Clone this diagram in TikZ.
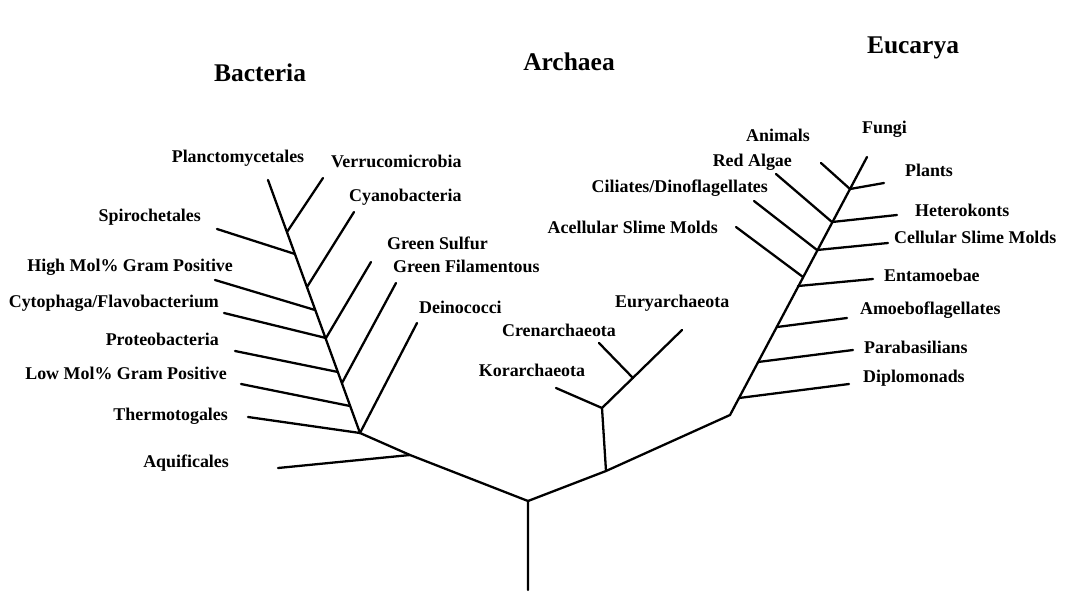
\documentclass[tikz,border=0pt]{standalone}
\usepackage{fontspec}
\setmainfont{Liberation Serif}
\usepackage{tikz}

\begin{document}
\begin{tikzpicture}[x=0.02cm, y=-0.02cm,
    branch/.style={line width=1.3pt, line cap=round, line join=round},
    taxon/.style={inner sep=1pt, font=\bfseries\fontsize{10.2}{12}\selectfont},
    kingdom/.style={inner sep=1pt, font=\bfseries\fontsize{14.5}{17}\selectfont}]
    \useasboundingbox (0,0) rectangle (1065,592);

    \node[kingdom] (bacteria) at (260,73) {Bacteria};
    \node[kingdom] (archaea) at (569,62) {Archaea};
    \node[kingdom] (eucarya) at (913,48) {Eucarya};

    \coordinate (root) at (528,501);
    \coordinate (rootbase) at (528,590);
    \coordinate (jaqu) at (410,455);
    \coordinate (jbac) at (360,433);
    \coordinate (jarc) at (606,471);
    \coordinate (jeuc) at (730,415);

    \coordinate (tplan) at (268,180);
    \coordinate (jver) at (287,232);
    \coordinate (jspi) at (295,254);
    \coordinate (jcya) at (307,287);
    \coordinate (jhig) at (315,310);
    \coordinate (jcyt) at (326,338);
    \coordinate (jpro) at (338,372);
    \coordinate (jgfi) at (342,383);
    \coordinate (jlow) at (350,406);
    \coordinate (tver) at (323,178);
    \coordinate (tspi) at (217,229);
    \coordinate (tcya) at (354,212);
    \coordinate (thig) at (215,280);
    \coordinate (tcyt) at (224,313);
    \coordinate (tgsu) at (371,262);
    \coordinate (tpro) at (235,351);
    \coordinate (tgfi) at (396,283);
    \coordinate (tlow) at (241,384);
    \coordinate (tdei) at (417,323);
    \coordinate (tthe) at (248,417);
    \coordinate (taqu) at (278,468);

    \coordinate (jar2) at (602,408);
    \coordinate (jar3) at (633,378);
    \coordinate (tkor) at (556,388);
    \coordinate (tcre) at (599,343);
    \coordinate (teur) at (682,330);

    \coordinate (jdip) at (739,398);
    \coordinate (jpar) at (758,362);
    \coordinate (jamo) at (777,327);
    \coordinate (jent) at (798,286);
    \coordinate (jace) at (803,277);
    \coordinate (jcel) at (817,250);
    \coordinate (jhet) at (832,222);
    \coordinate (jpla) at (850,189);
    \coordinate (tfun) at (867,157);
    \coordinate (tdip) at (849,384);
    \coordinate (tpar) at (853,350);
    \coordinate (tamo) at (847,318);
    \coordinate (tent) at (873,279);
    \coordinate (tace) at (736,227);
    \coordinate (tcel) at (888,243);
    \coordinate (tcil) at (754,201);
    \coordinate (thet) at (897,215);
    \coordinate (tred) at (776,174);
    \coordinate (tpla) at (884,183);
    \coordinate (tani) at (821,163);

    \draw[branch] (rootbase) -- (root) -- (jaqu) -- (jbac) -- (tplan);
    \draw[branch] (root) -- (jarc) -- (jeuc) -- (tfun);
    \draw[branch] (jaqu) -- (taqu);
    \draw[branch] (jbac) -- (tthe);
    \draw[branch] (jbac) -- (tdei);
    \draw[branch] (jlow) -- (tlow);
    \draw[branch] (jgfi) -- (tgfi);
    \draw[branch] (jpro) -- (tpro);
    \draw[branch] (jcyt) -- (tcyt);
    \draw[branch] (jcyt) -- (tgsu);
    \draw[branch] (jhig) -- (thig);
    \draw[branch] (jcya) -- (tcya);
    \draw[branch] (jspi) -- (tspi);
    \draw[branch] (jver) -- (tver);

    \draw[branch] (jarc) -- (jar2) -- (teur);
    \draw[branch] (jar2) -- (tkor);
    \draw[branch] (jar3) -- (tcre);

    \draw[branch] (jdip) -- (tdip);
    \draw[branch] (jpar) -- (tpar);
    \draw[branch] (jamo) -- (tamo);
    \draw[branch] (jent) -- (tent);
    \draw[branch] (jace) -- (tace);
    \draw[branch] (jcel) -- (tcel);
    \draw[branch] (jcel) -- (tcil);
    \draw[branch] (jhet) -- (thet);
    \draw[branch] (jhet) -- (tred);
    \draw[branch] (jpla) -- (tpla);
    \draw[branch] (jpla) -- (tani);

    \node[taxon] (plan) at (238,158) {Planctomycetales};
    \node[taxon, anchor=west] (ver) at (329,161) {Verrucomicrobia};
    \node[taxon, anchor=east] (spi) at (203,217) {Spirochetales};
    \node[taxon, anchor=west] (cya) at (347,197) {Cyanobacteria};
    \node[taxon, anchor=east] (hig) at (235,267) {High Mol\% Gram Positive};
    \node[taxon, anchor=west] (gsu) at (385,243) {Green Sulfur};
    \node[taxon, anchor=west] (gfi) at (391,266) {Green Filamentous};
    \node[taxon, anchor=east] (cyt) at (221,303) {Cytophaga/Flavobacterium};
    \node[taxon, anchor=west] (dei) at (417,307) {Deinococci};
    \node[taxon, anchor=east] (pro) at (221,339) {Proteobacteria};
    \node[taxon, anchor=east] (low) at (229,373) {Low Mol\% Gram Positive};
    \node[taxon, anchor=east] (the) at (230,416) {Thermotogales};
    \node[taxon, anchor=east] (aqu) at (231,463) {Aquificales};

    \node[taxon] (kor) at (532,370) {Korarchaeota};
    \node[taxon] (cre) at (559,330) {Crenarchaeota};
    \node[taxon, anchor=west] (eur) at (613,303) {Euryarchaeota};

    \node[taxon, anchor=east] (ace) at (720,227) {Acellular Slime Molds};
    \node[taxon, anchor=east] (cil) at (770,188) {Ciliates/Dinoflagellates};
    \node[taxon, anchor=east] (red) at (794,162) {Red Algae};
    \node[taxon, anchor=east] (ani) at (812,135) {Animals};
    \node[taxon, anchor=west] (fun) at (860,129) {Fungi};
    \node[taxon, anchor=west] (pla) at (903,170) {Plants};
    \node[taxon, anchor=west] (het) at (913,210) {Heterokonts};
    \node[taxon, anchor=west] (cel) at (892,237) {Cellular Slime Molds};
    \node[taxon, anchor=west] (ent) at (882,275) {Entamoebae};
    \node[taxon, anchor=west] (amo) at (858,310) {Amoeboflagellates};
    \node[taxon, anchor=west] (par) at (862,347) {Parabasilians};
    \node[taxon, anchor=west] (dip) at (861,378) {Diplomonads};
\end{tikzpicture}
\end{document}
